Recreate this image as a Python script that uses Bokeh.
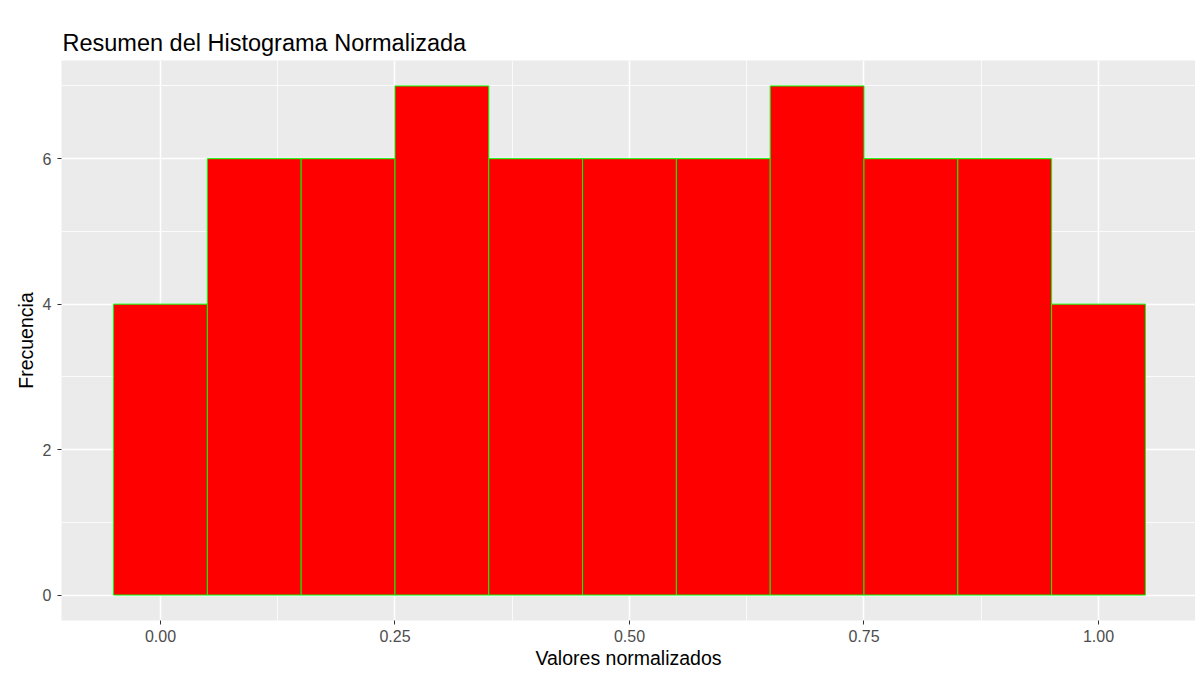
from bokeh.plotting import figure
from bokeh.models import FixedTicker, PrintfTickFormatter, Range1d, Title
from bokeh.embed import file_html
from bokeh.resources import INLINE

# Data
bin_centers = [0.0, 0.1, 0.2, 0.3, 0.4, 0.5, 0.6, 0.7, 0.8, 0.9, 1.0]
counts = [4, 6, 6, 7, 6, 6, 6, 7, 6, 6, 4]
bin_width = 0.1
x_ticks = [0.0, 0.25, 0.5, 0.75, 1.0]
x_minor = [0.125, 0.375, 0.625, 0.875]
y_ticks = [0, 2, 4, 6]
y_minor = [1, 3, 5, 7]

FONT = "Liberation Sans"

p = figure(width=1195, height=673, output_backend="svg", toolbar_location=None,
           x_range=Range1d(-0.1055, 1.1034), y_range=Range1d(-0.35, 7.35),
           min_border_left=61, min_border_right=0, min_border_top=60,
           min_border_bottom=53)
p.title = Title(text="Resumen del Histograma Normalizada", text_font=FONT,
                text_font_size="23.5px", text_font_style="normal", text_color="black",
                offset=1, standoff=10)

p.background_fill_color = "#EBEBEB"
p.border_fill_color = "white"
p.outline_line_color = None

p.vbar(x=bin_centers, top=counts, bottom=0, width=bin_width,
       fill_color="#FF0000", line_color="#00FF00", line_width=1)

# axes
p.xaxis.ticker = FixedTicker(ticks=x_ticks, minor_ticks=x_minor)
p.yaxis.ticker = FixedTicker(ticks=y_ticks, minor_ticks=y_minor)
p.xaxis.formatter = PrintfTickFormatter(format="%.2f")
for ax in (p.xaxis, p.yaxis):
    ax.axis_line_color = None
    ax.major_tick_line_color = "#333333"
    ax.major_tick_in = 0
    ax.major_tick_out = 4
    ax.minor_tick_line_color = None
    ax.major_label_text_font = FONT
    ax.major_label_text_font_size = "16px"
    ax.major_label_text_color = "#4D4D4D"
    ax.axis_label_text_font = FONT
    ax.axis_label_text_font_size = "19.5px"
    ax.axis_label_text_font_style = "normal"
    ax.axis_label_text_color = "black"
p.xaxis.axis_label = "Valores normalizados"
p.yaxis.axis_label = "Frecuencia"
p.xaxis.major_label_standoff = 5
p.xaxis.axis_label_standoff = 2
p.yaxis.major_label_standoff = 6
p.yaxis.axis_label_standoff = 3

# grid
for g in (p.xgrid, p.ygrid):
    g.grid_line_color = "white"
    g.grid_line_width = 1.6
    g.minor_grid_line_color = "white"
    g.minor_grid_line_width = 0.8
p.xgrid.ticker = p.xaxis.ticker
p.ygrid.ticker = p.yaxis.ticker
p.grid.level = "underlay"

open("out.html", "w").write(file_html(p, INLINE))
